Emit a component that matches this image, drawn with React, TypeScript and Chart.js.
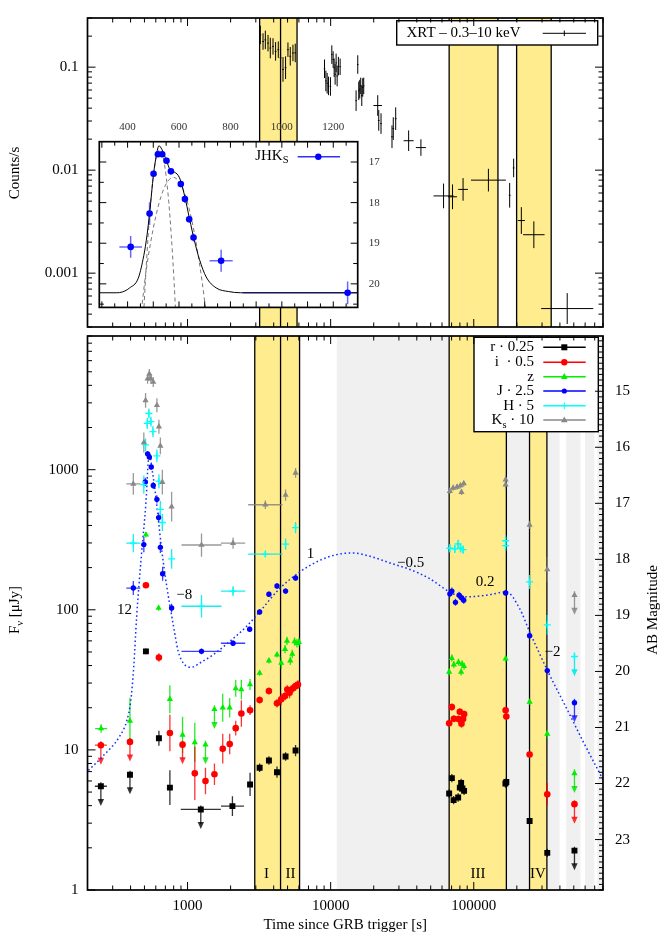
import React, { useEffect, useRef } from 'react';
import { Chart, registerables } from 'chart.js';

Chart.register(...registerables);

const SERIF = '"Liberation Serif", "DejaVu Serif", serif';
const FS = 15;
const YELLOW = '#ffec8e';
const GREY = '#f0f0f0';

// ---------------- shared time axis ----------------
const timeMin = 200;
const timeMax = 800000;

// ---------------- top panel: Swift/XRT 0.3-10 keV ----------------
const countMin = 3e-4;
const countMax = 0.3;
const xrtTime = [3227, 3370, 3497, 3651, 3788, 3956, 4125, 4307, 4467, 4645, 4842, 5031, 5222, 5452, 5657,
  9060, 9260, 9454, 9654, 9969, 10190, 10410, 10580, 10750, 10920, 11100, 11330, 11650,
  15060, 15470, 15720, 15970, 16230, 16500, 16760, 17030,
  21330, 21680, 22490, 26830, 27390, 28480, 35070, 42730, 61510, 71060, 84200, 126600, 178200, 190000, 215000, 263000, 449800];
const xrtRate = [0.2056, 0.1774, 0.184, 0.171, 0.1533, 0.1589, 0.1422, 0.1477, 0.123, 0.0951, 0.0987, 0.1477, 0.1274, 0.1374, 0.1374,
  0.0964, 0.0735, 0.0698, 0.0658, 0.0649, 0.1323, 0.1185, 0.0987, 0.0851, 0.110, 0.082, 0.1023, 0.1009,
  0.0473, 0.106, 0.0589, 0.0612, 0.0658, 0.0528, 0.0635, 0.0658,
  0.0424, 0.0304, 0.0283, 0.0211, 0.0253, 0.0316, 0.0193, 0.01656, 0.00562, 0.00551, 0.0065, 0.0080, 0.0057, 0.0105, 0.00324, 0.00236, 0.000453];
const xrtRateErr = [0.09, 0.08, 0.09, 0.08, 0.1, 0.08, 0.09, 0.08, 0.1, 0.12, 0.11, 0.07, 0.09, 0.08, 0.09,
  0.09, 0.1, 0.1, 0.09, 0.09, 0.09, 0.08, 0.09, 0.1, 0.09, 0.1, 0.09, 0.08,
  0.1, 0.09, 0.09, 0.09, 0.08, 0.1, 0.09, 0.08,
  0.1, 0.1, 0.1, 0.11, 0.11, 0.11, 0.1, 0.08, 0.12, 0.12, 0.11, 0.11, 0.12, 0.09, 0.13, 0.13, 0.15];
const xrtTimeErr = [0.006, 0.006, 0.006, 0.006, 0.006, 0.006, 0.006, 0.006, 0.006, 0.006, 0.006, 0.006, 0.006, 0.006, 0.006,
  0.005, 0.005, 0.005, 0.005, 0.005, 0.005, 0.005, 0.005, 0.005, 0.005, 0.005, 0.005, 0.005,
  0.005, 0.005, 0.005, 0.005, 0.005, 0.005, 0.005, 0.005,
  0.03, 0.006, 0.006, 0.006, 0.006, 0.006, 0.035, 0.035, 0.07, 0.031, 0.034, 0.122, 0.006, 0.006, 0.025, 0.075, 0.182];

const topBandStart = [3190, 67300, 199300];
const topBandEnd = [5824, 147600, 347600];
const topBandLines = [3190, 4467, 5824, 67300, 147600, 199300, 347600];

// ---------------- bottom panel: optical/NIR flux densities ----------------
const fluxMin = 1;
const fluxMax = 9000;

const bandStart = [2950, 4467, 67300, 245300];
const bandEnd = [4467, 6066, 169000, 324500];
const bandLines = [2950, 4467, 6066, 67300, 169000, 245300, 324500];
const bandNames = ['I', 'II', 'III', 'IV'];
const bandNameTime = [3560, 5240, 107100, 281000];
const greyStart = [11040, 169000, 329600, 442600, 598400, 731000];
const greyEnd = [67300, 245300, 397600, 556700, 696700, 800000];

// r * 0.25
const rTime = [512, 631, 753, 2059, 2735, 3190, 3704, 4218, 4842, 5687, 67300, 70300, 72300, 77800, 79900, 81600, 83400, 85600, 166500, 168900, 245600, 326300];
const rFlux = [50.5, 12.1, 5.38, 3.97, 5.67, 7.46, 8.40, 6.93, 8.97, 9.89, 4.89, 6.29, 4.38, 4.57, 5.38, 5.81, 5.30, 5.10, 5.75, 5.90, 3.11, 1.84];
const rErr = [0.02, 0.053, 0.124, 0.07, 0.083, 0.03, 0.03, 0.04, 0.03, 0.04, 0.03, 0.03, 0.03, 0.03, 0.03, 0.03, 0.03, 0.03, 0.03, 0.03, 0.02, 0.03];
const rTimeErr = [0, 0, 0, 0.08, 0, 0, 0, 0, 0, 0, 0.01, 0.01, 0.01, 0.01, 0.01, 0.01, 0.01, 0.01, 0.006, 0.006, 0, 0];
const rUlTime = [248, 396, 1238, 505500];
const rUlFlux = [5.5, 6.65, 3.76, 1.91];
const rUlTimeErr = [0.042, 0, 0.14, 0];

// i * 0.5
const iTime = [512, 631, 753, 1124, 1335, 1542, 1762, 1971, 2172, 2378, 2735, 3190, 3704, 4218, 4518, 4800, 4980, 5165, 5455, 5687, 5905,
  67300, 70300, 72600, 78200, 79900, 82080, 84200, 85600, 167000, 168900, 245600, 326300];
const iFlux = [149.6, 45.7, 13.2, 6.8, 6.0, 6.7, 10.2, 11.0, 14.3, 18.2, 19.2, 22.7, 26.3, 21.5, 23.0, 24.2, 27.0, 25.6, 27.5, 28.5, 29.3,
  15.5, 20.2, 16.7, 16.6, 18.7, 15.4, 16.6, 18.0, 19.2, 17.3, 9.27, 4.83];
const iErr = [0.02, 0.03, 0.13, 0.19, 0.094, 0.077, 0.106, 0.073, 0.053, 0.094, 0.035, 0.025, 0.025, 0.03, 0.04, 0.03, 0.03, 0.04, 0.03, 0.03, 0.03,
  0.025, 0.025, 0.025, 0.025, 0.025, 0.03, 0.025, 0.025, 0.025, 0.025, 0.02, 0.08];
const iUlTime = [248, 396, 923, 505500];
const iUlFlux = [10.8, 11.4, 10.9, 4.1];
const iUlTimeErr = [0.042, 0, 0, 0];

// z
const zTime = [249, 396, 512, 628, 753, 923, 1124, 1762, 1971, 2172, 2378, 2735, 3190, 3704, 4218, 4518, 4800, 4954, 5225, 5395, 5596, 5814, 6003,
  67300, 70300, 72600, 78200, 81600, 82900, 85600, 167000, 245600, 326300];
const zFlux = [14.2, 16.1, 343, 103, 23.0, 12.8, 11.3, 20.0, 20.0, 27.5, 27.0, 29.3, 35.4, 43.3, 47.8, 41.7, 52.4, 60.0, 43.3, 48.3, 59.4, 57.7, 58.7,
  36.0, 45.2, 40.6, 42.2, 36.0, 41.0, 39.5, 44.8, 22.0, 13.0];
const zErr = [0.03, 0.165, 0.02, 0.02, 0.1, 0.13, 0.14, 0.1, 0.07, 0.06, 0.07, 0.04, 0.02, 0.02, 0.02, 0.04, 0.03, 0.03, 0.03, 0.03, 0.03, 0.03, 0.03,
  0.025, 0.025, 0.025, 0.025, 0.025, 0.025, 0.025, 0.025, 0.02, 0.03];
const zTimeErr = [0.042];
const zUlTime = [1335, 1542, 505500];
const zUlFlux = [10.9, 19.5, 6.8];

// J * 2.5
const jTime = [418, 495, 507, 526, 541, 558, 576, 611, 628, 646, 670, 774, 1252, 2080, 2718, 3190, 3704, 4218, 4842, 5687,
  68060, 70300, 74500, 79000, 82080, 85100, 167000, 245600, 326300];
const jFlux = [143, 292, 818, 1297, 1230, 1045, 771, 614, 455, 279, 181, 103, 50.5, 57.7, 72.6, 96.4, 129, 148, 136, 168.5,
  130, 136, 113, 127, 122, 117, 132, 65.2, 36.8];
const jErr = [0.05, 0.055, 0.03, 0.02, 0.02, 0.02, 0.025, 0.03, 0.035, 0.04, 0.05, 0.03, 0.02, 0.02, 0.02, 0.02, 0.02, 0.02, 0.02, 0.02,
  0.025, 0.025, 0.025, 0.025, 0.025, 0.025, 0.02, 0.02, 0.02];
const jTimeErr = [0.049, 0, 0, 0, 0, 0, 0, 0, 0, 0, 0, 0, 0.14, 0.085, 0, 0, 0, 0, 0, 0, 0.012, 0.012, 0.012, 0.012, 0.012, 0.012, 0.006, 0, 0];
const jUlTime = [505500];
const jUlFlux = [21.7];

// H * 5
const hTime = [418, 495, 509, 523, 537, 555, 573, 611, 631, 646, 667, 774, 1252, 2080, 3497, 4842, 5687,
  68060, 73760, 77800, 80800, 84200, 167000, 167000, 245600, 326300];
const hFlux = [299, 783, 1503, 2138, 2518, 2203, 1871, 1256, 828, 521, 420, 231, 106, 136, 250, 294, 386,
  275, 272, 295, 275, 269, 311, 287, 158, 78];
const hErr = [0.065, 0.065, 0.045, 0.04, 0.035, 0.035, 0.04, 0.045, 0.05, 0.06, 0.06, 0.07, 0.08, 0.035, 0.02, 0.04, 0.04,
  0.03, 0.03, 0.03, 0.03, 0.03, 0.04, 0.04, 0.05, 0.07];
const hTimeErr = [0.049, 0, 0, 0, 0, 0, 0, 0, 0, 0, 0, 0, 0.14, 0.085, 0.12, 0, 0, 0.012, 0.012, 0.012, 0.012, 0.012, 0.006, 0.006, 0, 0];
const hUlTime = [505500];
const hUlFlux = [46.4];

// Ks * 10
const kTime = [418, 495, 509, 526, 541, 555, 576, 611, 631, 646, 667, 774, 1252, 2080, 3497, 4842, 5687,
  68060, 71800, 76560, 80800, 82080, 85100, 167000, 167000, 245600, 326300];
const kFlux = [792, 1563, 3126, 4457, 4833, 4457, 4224, 2884, 2028, 1479, 815, 545, 290, 299, 562, 659, 948,
  703, 741, 754, 771, 692, 796, 849, 783, 404, 194];
const kErr = [0.077, 0.071, 0.053, 0.035, 0.035, 0.035, 0.035, 0.05, 0.05, 0.06, 0.088, 0.106, 0.083, 0.04, 0.03, 0.04, 0.035,
  0.02, 0.02, 0.02, 0.02, 0.02, 0.02, 0.03, 0.03, 0.03, 0.09];
const kTimeErr = [0.049, 0, 0, 0, 0, 0, 0, 0, 0, 0, 0, 0, 0.14, 0.085, 0.12, 0, 0, 0.012, 0.012, 0.012, 0.012, 0.012, 0.012, 0.006, 0.006, 0, 0];
const kUlTime = [505800];
const kUlFlux = [127];

// J-band light-curve model (dotted)
const modelTime = [203, 252, 337, 376, 401, 421, 441, 478, 512, 532, 546, 561, 592, 625, 659, 714, 795, 861, 933, 1066, 1218, 1511, 1971, 2578, 3190,
  4399, 6066, 8357, 11520, 14280, 18840, 25990, 35810, 49340, 68060, 84200, 122500, 168900, 209300, 245600, 329300, 466700, 577700, 805000];
const modelFlux = [7.14, 8.87, 12.6, 16.1, 22.3, 39.5, 89.2, 257, 581, 1152, 1291, 1057, 721, 443, 271, 150, 78, 50.5, 41.7, 38.9, 41.7, 47.8, 59.4, 75.9, 96.8,
  141.6, 185.8, 224.8, 250, 254, 241, 216, 194, 166.5, 134, 123.6, 127, 134, 102, 69.8, 36.4, 18.0, 11.6, 6.07];

// power-law index annotations
const slopeText = ['12', '\u22128', '1', '\u22120.5', '0.2', '\u22122'];
const slopeTime = [363, 950, 7220, 36270, 119900, 355200];
const slopeFlux = [100, 127, 250, 215, 158, 49.6];

// ---------------- inset: JHKs flare (magnitudes) ----------------
const insetTimeMin = 290;
const insetTimeMax = 1295;
const insetMagBright = 16.5;
const insetMagFaint = 20.58;
const insetTimeLabels = [400, 600, 800, 1000, 1200];
const insetTime = [412, 485.5, 501, 518, 534.7, 551.5, 568.5, 607, 623, 639.6, 656.5, 763.8, 1255.8];
const insetMag = [19.09, 18.27, 17.29, 16.81, 16.81, 16.97, 17.23, 17.54, 17.91, 18.41, 18.86, 19.43, 20.22];
const insetMagErr = [0.27, 0.28, 0.06, 0.05, 0.05, 0.08, 0.06, 0.08, 0.1, 0.08, 0.1, 0.27, 0.28];
const insetTimeErr = [44, 0, 0, 0, 0, 0, 0, 0, 0, 0, 0, 45, 408];
const fitTime = [290, 356, 380, 408, 441, 460, 472.6, 485.5, 501, 511.5, 522, 533.5, 551, 566, 582.6, 602, 621, 641, 660, 679.6, 705.6, 744.5, 793, 840, 1295];
const fitMag = [20.22, 20.22, 20.2, 20.1, 19.87, 19.4, 18.94, 18.27, 17.3, 16.85, 16.6, 16.69, 16.96, 17.2, 17.25, 17.39, 17.81, 18.4, 18.94, 19.4, 19.83, 20.1, 20.19, 20.22, 20.22];
const flare1Time = [460, 465, 470, 480, 490, 500, 510, 520, 525, 530, 540, 550, 560, 570, 580, 588];
const flare1Mag = [21.09, 20.44, 19.85, 18.81, 17.97, 17.35, 16.93, 16.73, 16.7, 16.73, 16.93, 17.35, 17.97, 18.81, 19.85, 20.83];
const flare2Time = [445, 455, 470, 490, 510, 530, 550, 570, 578, 590, 610, 630, 650, 670, 690, 705, 712];
const flare2Mag = [21.0, 20.58, 19.77, 18.97, 18.33, 17.85, 17.54, 17.39, 17.38, 17.41, 17.59, 17.93, 18.44, 19.12, 19.95, 20.69, 21.0];

// ---------------- helpers ----------------
type Pt = { x: number; y: number; xl?: number; xh?: number; yl?: number; yh?: number; ul?: boolean };

function logPts(time: number[], val: number[], err: number[], terr: number[] = []): Pt[] {
  return time.map((t, i) => {
    const p: Pt = { x: t, y: val[i] };
    const e = err[i] || 0;
    const te = terr[i] || 0;
    if (e > 0) { p.yl = val[i] / Math.pow(10, e); p.yh = val[i] * Math.pow(10, e); }
    if (te > 0) { p.xl = t / Math.pow(10, te); p.xh = t * Math.pow(10, te); }
    return p;
  });
}
function ulPts(time: number[], val: number[], terr: number[] = []): Pt[] {
  return time.map((t, i) => {
    const p: Pt = { x: t, y: val[i], ul: true };
    const te = terr[i] || 0;
    if (te > 0) { p.xl = t / Math.pow(10, te); p.xh = t * Math.pow(10, te); }
    return p;
  });
}
function linPts(time: number[], val: number[], err: number[], terr: number[]): Pt[] {
  return time.map((t, i) => {
    const p: Pt = { x: t, y: val[i] };
    if (err[i]) { p.yl = val[i] - err[i]; p.yh = val[i] + err[i]; }
    if (terr[i]) { p.xl = t - terr[i]; p.xh = t + terr[i]; }
    return p;
  });
}
function xy(time: number[], val: number[]) {
  return time.map((t, i) => ({ x: t, y: val[i] }));
}

function line(ctx: any, x0: number, y0: number, x1: number, y1: number) {
  ctx.beginPath(); ctx.moveTo(x0, y0); ctx.lineTo(x1, y1); ctx.stroke();
}
function clipArea(ctx: any, a: any) {
  ctx.beginPath(); ctx.rect(a.left, a.top, a.right - a.left, a.bottom - a.top); ctx.clip();
}
function logTicks(min: number, max: number) {
  const out: { v: number; major: boolean }[] = [];
  for (let e = Math.floor(Math.log10(min)); e <= Math.ceil(Math.log10(max)); e++) {
    for (let k = 1; k <= 9; k++) {
      const v = k * Math.pow(10, e);
      if (v >= min * 0.999999 && v <= max * 1.000001) out.push({ v, major: k === 1 });
    }
  }
  return out;
}
function decadeLabel(v: any) {
  const l = Math.log10(Number(v));
  if (Math.abs(l - Math.round(l)) < 1e-6) return String(Number(Number(v).toPrecision(6)));
  return '';
}
function integerLabel(v: any) {
  const n = Number(v);
  return Math.abs(n - Math.round(n)) < 1e-6 ? String(Math.round(n)) : '';
}

type Part = { t: string; sub?: boolean };
function drawRich(ctx: any, parts: Part[], x: number, y: number, size: number, align: string) {
  ctx.textBaseline = 'middle';
  ctx.textAlign = 'left';
  const widths = parts.map((p) => {
    ctx.font = `${p.sub ? size * 0.7 : size}px ${SERIF}`;
    return ctx.measureText(p.t).width;
  });
  const total = widths.reduce((s, w) => s + w, 0);
  let cx = align === 'left' ? x : align === 'right' ? x - total : x - total / 2;
  parts.forEach((p, i) => {
    ctx.font = `${p.sub ? size * 0.7 : size}px ${SERIF}`;
    ctx.fillText(p.t, cx, y + (p.sub ? size * 0.32 : 0));
    cx += widths[i];
  });
}
function drawRotated(ctx: any, parts: Part[], x: number, y: number, size: number) {
  ctx.save();
  ctx.translate(x, y);
  ctx.rotate(-Math.PI / 2);
  drawRich(ctx, parts, 0, 0, size, 'center');
  ctx.restore();
}
function marker(ctx: any, style: string, x: number, y: number, color: string) {
  ctx.fillStyle = color; ctx.strokeStyle = color;
  if (style === 'rect') ctx.fillRect(x - 3, y - 3, 6, 6);
  else if (style === 'circle' || style === 'dot') {
    ctx.beginPath(); ctx.arc(x, y, style === 'dot' ? 2.6 : 3.2, 0, Math.PI * 2); ctx.fill();
  } else if (style === 'triangle') {
    ctx.beginPath(); ctx.moveTo(x, y - 3.6); ctx.lineTo(x + 3.3, y + 2.3); ctx.lineTo(x - 3.3, y + 2.3); ctx.closePath(); ctx.fill();
  } else if (style === 'cross') {
    ctx.lineWidth = 1; line(ctx, x - 3, y, x + 3, y); line(ctx, x, y - 3.5, x, y + 3.5);
  }
}

function fillBands(ctx: any, xs: any, a: any, starts: number[], ends: number[], color: string) {
  ctx.fillStyle = color;
  starts.forEach((s, i) => {
    const x0 = Math.max(a.left, xs.getPixelForValue(s));
    const x1 = Math.min(a.right, xs.getPixelForValue(ends[i]));
    if (x1 > x0) ctx.fillRect(x0, a.top, x1 - x0, a.bottom - a.top);
  });
}
function bandLinesDraw(ctx: any, xs: any, a: any, vals: number[]) {
  ctx.strokeStyle = '#000'; ctx.lineWidth = 1.3;
  vals.forEach((v) => { const px = xs.getPixelForValue(v); line(ctx, px, a.top, px, a.bottom); });
}
function logXTicks(ctx: any, xs: any, a: any) {
  ctx.strokeStyle = '#000'; ctx.lineWidth = 1;
  for (const t of logTicks(xs.min, xs.max)) {
    const px = xs.getPixelForValue(t.v); const L = t.major ? 8 : 4.5;
    line(ctx, px, a.bottom, px, a.bottom - L);
    line(ctx, px, a.top, px, a.top + L);
  }
}
function logYTicks(ctx: any, ys: any, a: any, left: boolean, right: boolean) {
  ctx.strokeStyle = '#000'; ctx.lineWidth = 1;
  for (const t of logTicks(ys.min, ys.max)) {
    const py = ys.getPixelForValue(t.v); const L = t.major ? 8 : 4.5;
    if (left) line(ctx, a.left, py, a.left + L, py);
    if (right) line(ctx, a.right, py, a.right - L, py);
  }
}
function frame(ctx: any, a: any) {
  ctx.strokeStyle = '#000'; ctx.lineWidth = 1.7;
  ctx.strokeRect(a.left, a.top, a.right - a.left, a.bottom - a.top);
}

const errorBarPlugin = {
  id: 'errorBars',
  beforeDatasetsDraw(chart: any) {
    const { ctx, chartArea: a } = chart;
    ctx.save();
    clipArea(ctx, a);
    chart.data.datasets.forEach((ds: any, di: number) => {
      const eb = ds.errorBars;
      if (!eb) return;
      const meta = chart.getDatasetMeta(di);
      const xs = chart.scales[meta.xAxisID];
      const ys = chart.scales[meta.yAxisID];
      ctx.strokeStyle = eb.color; ctx.fillStyle = eb.color; ctx.lineWidth = eb.width;
      for (const p of ds.data as Pt[]) {
        const px = xs.getPixelForValue(p.x);
        const py = ys.getPixelForValue(p.y);
        if (p.xl !== undefined) line(ctx, xs.getPixelForValue(p.xl), py, xs.getPixelForValue(p.xh as number), py);
        if (p.yl !== undefined) line(ctx, px, ys.getPixelForValue(p.yl), px, ys.getPixelForValue(p.yh as number));
        if (p.ul) {
          const tip = ys.getPixelForValue(p.y / Math.pow(10, 0.14));
          line(ctx, px, py - 4, px, tip - 5);
          ctx.beginPath(); ctx.moveTo(px - 3.2, tip - 7); ctx.lineTo(px + 3.2, tip - 7); ctx.lineTo(px, tip); ctx.closePath(); ctx.fill();
        }
      }
    });
    ctx.restore();
  },
};

const baseOpts = {
  animation: false,
  responsive: false,
  maintainAspectRatio: false,
  devicePixelRatio: 1,
  events: [],
  plugins: { legend: { display: false }, tooltip: { enabled: false } },
};

const tickFont = { family: SERIF, size: FS };

// ---------------- top chart ----------------
function topConfig(): any {
  const decor = {
    id: 'topDecor',
    beforeDatasetsDraw(chart: any) {
      const { ctx, chartArea: a, scales } = chart;
      ctx.save(); clipArea(ctx, a);
      fillBands(ctx, scales.x, a, topBandStart, topBandEnd, YELLOW);
      bandLinesDraw(ctx, scales.x, a, topBandLines);
      ctx.restore();
    },
    afterDatasetsDraw(chart: any) {
      const { ctx } = chart;
      ctx.save();
      ctx.fillStyle = '#fff'; ctx.fillRect(396.7, 20.7, 201, 24.3);
      ctx.strokeStyle = '#000'; ctx.lineWidth = 1.4; ctx.strokeRect(396.7, 20.7, 201, 24.3);
      ctx.fillStyle = '#000';
      drawRich(ctx, [{ t: 'XRT \u2013 0.3\u201310 keV' }], 406.5, 33.3, FS, 'left');
      ctx.lineWidth = 1; line(ctx, 542.7, 33.3, 586, 33.3); line(ctx, 564.3, 30.5, 564.3, 36.1);
      ctx.restore();
    },
    afterDraw(chart: any) {
      const { ctx, chartArea: a, scales } = chart;
      ctx.save();
      logXTicks(ctx, scales.x, a);
      logYTicks(ctx, scales.y, a, true, true);
      frame(ctx, a);
      ctx.fillStyle = '#000';
      drawRotated(ctx, [{ t: 'Counts/s' }], 15, 173, FS);
      ctx.restore();
    },
  };
  return {
    type: 'scatter',
    data: {
      datasets: [{
        data: logPts(xrtTime, xrtRate, xrtRateErr, xrtTimeErr), pointRadius: 0, showLine: false,
        errorBars: { color: '#000', width: 1 },
      }],
    },
    options: {
      ...baseOpts,
      layout: { padding: { top: 17, right: 61, bottom: 15, left: 0 } },
      scales: {
        x: { type: 'logarithmic', min: timeMin, max: timeMax, display: false },
        y: {
          type: 'logarithmic', min: countMin, max: countMax, position: 'left',
          afterFit: (s: any) => { s.width = 87.5; },
          grid: { display: false, drawTicks: false }, border: { display: false },
          ticks: { autoSkip: false, padding: 9, color: '#000', font: tickFont, callback: decadeLabel },
        },
      },
    },
    plugins: [decor, errorBarPlugin],
  };
}

// ---------------- bottom chart ----------------
const BOT_TOP = 315;
const legendRows = [
  { parts: [{ t: 'r \u00b7 0.25' }], color: '#000000', style: 'rect' },
  { parts: [{ t: 'i  \u00b7 0.5' }], color: '#ff0000', style: 'circle' },
  { parts: [{ t: 'z' }], color: '#00ee00', style: 'triangle' },
  { parts: [{ t: 'J \u00b7 2.5' }], color: '#0000ff', style: 'dot' },
  { parts: [{ t: 'H \u00b7 5' }], color: '#00ffff', style: 'cross' },
  { parts: [{ t: 'K' }, { t: 's', sub: true }, { t: ' \u00b7 10' }], color: '#888888', style: 'triangle' },
];

function bottomConfig(): any {
  const decor = {
    id: 'botDecor',
    beforeDatasetsDraw(chart: any) {
      const { ctx, chartArea: a, scales } = chart;
      ctx.save(); clipArea(ctx, a);
      fillBands(ctx, scales.x, a, greyStart, greyEnd, GREY);
      fillBands(ctx, scales.x, a, bandStart, bandEnd, YELLOW);
      bandLinesDraw(ctx, scales.x, a, bandLines);
      ctx.restore();
    },
    afterDatasetsDraw(chart: any) {
      const { ctx, scales } = chart;
      const xs = scales.x; const ys = scales.y;
      ctx.save();
      ctx.fillStyle = '#000';
      slopeText.forEach((s, i) => drawRich(ctx, [{ t: s }], xs.getPixelForValue(slopeTime[i]), ys.getPixelForValue(slopeFlux[i]), FS, 'center'));
      bandNames.forEach((s, i) => drawRich(ctx, [{ t: s }], xs.getPixelForValue(bandNameTime[i]), ys.getPixelForValue(1.29), FS, 'center'));
      // legend
      const by = 337.3 - BOT_TOP;
      ctx.fillStyle = '#fff'; ctx.fillRect(474, by, 124.3, 94.4);
      ctx.strokeStyle = '#000'; ctx.lineWidth = 1.4; ctx.strokeRect(474, by, 124.3, 94.4);
      const rowY = [347.3, 362.3, 376.7, 391, 405.7, 420];
      legendRows.forEach((r, i) => {
        const y = rowY[i] - BOT_TOP;
        ctx.fillStyle = '#000';
        drawRich(ctx, r.parts, 534, y, FS, 'right');
        ctx.strokeStyle = r.color; ctx.lineWidth = 1.5; line(ctx, 543.3, y, 585.7, y);
        marker(ctx, r.style, 564.3, y, r.color);
      });
      ctx.restore();
    },
    afterDraw(chart: any) {
      const { ctx, chartArea: a, scales } = chart;
      ctx.save();
      logXTicks(ctx, scales.x, a);
      logYTicks(ctx, scales.y, a, true, false);
      const m = scales.y2;
      ctx.strokeStyle = '#000'; ctx.lineWidth = 1;
      for (let k = Math.ceil(m.min * 10); k <= Math.floor(m.max * 10); k++) {
        const py = m.getPixelForValue(k / 10);
        line(ctx, a.right, py, a.right - (k % 10 === 0 ? 8 : 4), py);
      }
      frame(ctx, a);
      ctx.fillStyle = '#000';
      drawRotated(ctx, [{ t: 'F' }, { t: '\u03bd', sub: true }, { t: ' [\u03bcJy]' }], 15, 610 - BOT_TOP, FS);
      drawRotated(ctx, [{ t: 'AB Magnitude' }], 653, 610 - BOT_TOP, FS);
      drawRich(ctx, [{ t: 'Time since GRB trigger [s]' }], (a.left + a.right) / 2, 925 - BOT_TOP, FS, 'center');
      ctx.restore();
    },
  };
  const series = (data: Pt[], style: string, radius: number, color: string, ebColor: string) => ({
    data, pointStyle: style, pointRadius: radius, backgroundColor: color, borderColor: color, borderWidth: style === 'cross' ? 1.3 : 0,
    showLine: false, errorBars: { color: ebColor, width: 1.3 },
  });
  return {
    type: 'scatter',
    data: {
      datasets: [
        series([...logPts(kTime, kFlux, kErr, kTimeErr), ...ulPts(kUlTime, kUlFlux)], 'triangle', 3.6, '#888888', 'rgba(128,128,128,0.8)'),
        series([...logPts(hTime, hFlux, hErr, hTimeErr), ...ulPts(hUlTime, hUlFlux)], 'cross', 3.5, '#00ffff', 'rgba(0,235,235,0.9)'),
        series([...logPts(jTime, jFlux, jErr, jTimeErr), ...ulPts(jUlTime, jUlFlux)], 'circle', 2.7, '#0000ff', 'rgba(0,0,255,0.75)'),
        series([...logPts(zTime, zFlux, zErr, zTimeErr), ...ulPts(zUlTime, zUlFlux)], 'triangle', 3.6, '#00ee00', 'rgba(0,230,0,0.85)'),
        series([...logPts(iTime, iFlux, iErr), ...ulPts(iUlTime, iUlFlux, iUlTimeErr)], 'circle', 3.3, '#ff0000', 'rgba(255,0,0,0.8)'),
        series([...logPts(rTime, rFlux, rErr, rTimeErr), ...ulPts(rUlTime, rUlFlux, rUlTimeErr)], 'rect', 4.2, '#000000', 'rgba(0,0,0,0.8)'),
        {
          data: xy(modelTime, modelFlux), showLine: true, pointRadius: 0, borderColor: '#1030ff', borderWidth: 1.5,
          borderDash: [1.6, 2.6], cubicInterpolationMode: 'monotone', fill: false,
        },
      ],
    },
    options: {
      ...baseOpts,
      layout: { padding: { top: 15, right: 0, bottom: 0, left: 0 } },
      scales: {
        x: {
          type: 'logarithmic', min: timeMin, max: timeMax, position: 'bottom',
          afterFit: (s: any) => { s.height = 59; },
          grid: { display: false, drawTicks: false }, border: { display: false },
          ticks: { autoSkip: false, maxRotation: 0, padding: 7, color: '#000', font: tickFont, callback: decadeLabel },
        },
        y: {
          type: 'logarithmic', min: fluxMin, max: fluxMax, position: 'left',
          afterFit: (s: any) => { s.width = 87.5; },
          grid: { display: false, drawTicks: false }, border: { display: false },
          ticks: { autoSkip: false, padding: 9, color: '#000', font: tickFont, callback: decadeLabel },
        },
        y2: {
          type: 'linear', position: 'right', reverse: true,
          min: 23.9 - 2.5 * Math.log10(fluxMax), max: 23.9 - 2.5 * Math.log10(fluxMin),
          afterFit: (s: any) => { s.width = 61; },
          grid: { display: false, drawTicks: false }, border: { display: false },
          ticks: { stepSize: 1, autoSkip: false, padding: 12, color: '#000', font: tickFont, callback: integerLabel },
        },
      },
    },
    plugins: [decor, errorBarPlugin],
  };
}

// ---------------- inset chart ----------------
const INS_LEFT = 85;
const INS_TOP = 112;
function insetConfig(): any {
  const decor = {
    id: 'insetDecor',
    beforeDatasetsDraw(chart: any) {
      const { ctx, chartArea: a } = chart;
      ctx.save(); ctx.fillStyle = '#fff'; ctx.fillRect(a.left, a.top, a.right - a.left, a.bottom - a.top); ctx.restore();
    },
    afterDatasetsDraw(chart: any) {
      const { ctx } = chart;
      ctx.save();
      ctx.fillStyle = '#000';
      drawRich(ctx, [{ t: 'JHK' }, { t: 'S', sub: true }], 288.5 - INS_LEFT, 155.7 - INS_TOP, FS, 'right');
      ctx.strokeStyle = '#3030ff'; ctx.lineWidth = 1.5; line(ctx, 297.7 - INS_LEFT, 156.7 - INS_TOP, 340 - INS_LEFT, 156.7 - INS_TOP);
      marker(ctx, 'circle', 318.3 - INS_LEFT, 156.7 - INS_TOP, '#0000ff');
      ctx.restore();
    },
    afterDraw(chart: any) {
      const { ctx, chartArea: a, scales } = chart;
      const xs = scales.x; const ys = scales.y;
      ctx.save();
      ctx.strokeStyle = '#000'; ctx.lineWidth = 1;
      for (let v = 300; v <= 1290; v += 50) {
        const px = xs.getPixelForValue(v); const L = v % 100 === 0 ? 6 : 4;
        line(ctx, px, a.top, px, a.top + L); line(ctx, px, a.bottom, px, a.bottom - L);
      }
      for (let k = 34; k <= 41; k++) {
        const py = ys.getPixelForValue(k / 2); const L = k % 2 === 0 ? 7 : 4.5;
        line(ctx, a.left, py, a.left + L, py); line(ctx, a.right, py, a.right - L, py);
      }
      frame(ctx, a);
      ctx.fillStyle = '#333';
      insetTimeLabels.forEach((v) => drawRich(ctx, [{ t: String(v) }], xs.getPixelForValue(v), a.top - 15, 11, 'center'));
      ctx.restore();
    },
  };
  return {
    type: 'scatter',
    data: {
      datasets: [
        {
          data: linPts(insetTime, insetMag, insetMagErr, insetTimeErr), pointStyle: 'circle', pointRadius: 3.3,
          backgroundColor: '#0000ff', borderWidth: 0, showLine: false, errorBars: { color: 'rgba(40,40,255,0.7)', width: 1.5 },
        },
        {
          data: xy(fitTime, fitMag), showLine: true, pointRadius: 0, borderColor: '#000', borderWidth: 1,
          cubicInterpolationMode: 'monotone',
        },
        {
          data: xy(flare1Time, flare1Mag), showLine: true, pointRadius: 0, borderColor: '#555', borderWidth: 0.8,
          borderDash: [4, 3], cubicInterpolationMode: 'monotone',
        },
        {
          data: xy(flare2Time, flare2Mag), showLine: true, pointRadius: 0, borderColor: '#555', borderWidth: 0.8,
          borderDash: [4, 3], cubicInterpolationMode: 'monotone',
        },
      ],
    },
    options: {
      ...baseOpts,
      layout: { padding: { top: 29.7, right: 0, bottom: 8, left: 14.3 } },
      scales: {
        x: { type: 'linear', min: insetTimeMin, max: insetTimeMax, display: false },
        y: {
          type: 'linear', min: insetMagBright, max: insetMagFaint, position: 'right', reverse: true,
          afterFit: (s: any) => { s.width = 37.3; },
          grid: { display: false, drawTicks: false }, border: { display: false },
          ticks: { stepSize: 1, autoSkip: false, padding: 11, color: '#333', font: { family: SERIF, size: 11 }, callback: integerLabel },
        },
      },
    },
    plugins: [decor, errorBarPlugin],
  };
}

export default function App() {
  const topRef = useRef<HTMLCanvasElement>(null);
  const botRef = useRef<HTMLCanvasElement>(null);
  const insRef = useRef<HTMLCanvasElement>(null);
  useEffect(() => {
    const charts: Chart[] = [];
    if (topRef.current) charts.push(new Chart(topRef.current, topConfig()));
    if (botRef.current) charts.push(new Chart(botRef.current, bottomConfig()));
    if (insRef.current) charts.push(new Chart(insRef.current, insetConfig()));
    return () => charts.forEach((c) => c.destroy());
  }, []);
  return (
    <div style={{ position: 'absolute', left: 0, top: 0, width: 664, height: 949, background: '#fff', overflow: 'hidden' }}>
      <canvas ref={topRef} width={664} height={345} style={{ position: 'absolute', left: 0, top: 0 }} />
      <canvas ref={botRef} width={664} height={634} style={{ position: 'absolute', left: 0, top: BOT_TOP }} />
      <canvas ref={insRef} width={310} height={213} style={{ position: 'absolute', left: INS_LEFT, top: INS_TOP }} />
    </div>
  );
}
